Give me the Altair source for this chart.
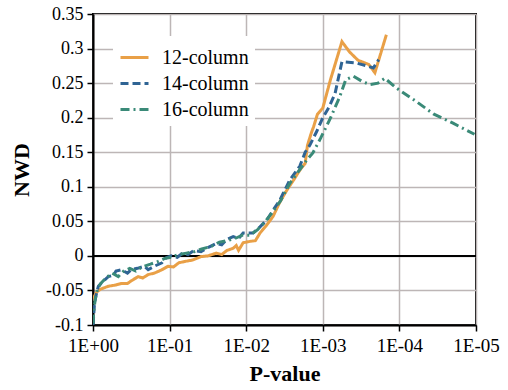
import altair as alt
import pandas as pd

series_names = ["12-column", "14-column", "16-column"]
series_colors = ["#e9a047", "#2f6494", "#3a8a78"]
series_dash = [[1, 0], [8, 4], [9, 4, 2, 4]]

# x = -log10(P-value), y = NWD
x12 = [0.00, 0.02, 0.05, 0.10, 0.20, 0.30, 0.37, 0.45, 0.50, 0.59, 0.65, 0.72, 0.80,
       0.90, 0.98, 1.05, 1.12, 1.20, 1.30, 1.41, 1.50, 1.61, 1.68, 1.75, 1.83, 1.87,
       1.90, 1.96, 2.05, 2.12, 2.18, 2.27, 2.35, 2.44, 2.53, 2.62, 2.70, 2.77, 2.80,
       2.85, 2.88, 2.93, 3.00, 3.10, 3.25, 3.35, 3.46, 3.60, 3.68, 3.83]
y12 = [-0.065, -0.058, -0.052, -0.048, -0.044, -0.042, -0.040, -0.040, -0.036, -0.030,
       -0.032, -0.027, -0.025, -0.020, -0.015, -0.016, -0.010, -0.008, -0.006, -0.001,
       0.000, 0.004, 0.002, 0.008, 0.011, 0.015, 0.008, 0.019, 0.021, 0.022, 0.033,
       0.045, 0.057, 0.078, 0.095, 0.110, 0.124, 0.134, 0.160, 0.178, 0.187, 0.205,
       0.214, 0.255, 0.310, 0.295, 0.283, 0.277, 0.265, 0.320]

x14 = [0.00, 0.01, 0.02, 0.05, 0.07, 0.12, 0.20, 0.27, 0.30, 0.37, 0.45, 0.50, 0.58,
       0.67, 0.72, 0.80, 0.90, 0.95, 1.02, 1.10, 1.17, 1.24, 1.32, 1.41, 1.50, 1.61,
       1.68, 1.75, 1.83, 1.90, 1.96, 2.09, 2.18, 2.27, 2.35, 2.44, 2.57, 2.70, 2.77,
       2.83, 2.92, 3.00, 3.08, 3.16, 3.25, 3.44, 3.60, 3.66, 3.73]
y14 = [-0.100, -0.085, -0.068, -0.052, -0.044, -0.038, -0.030, -0.028, -0.022, -0.020,
       -0.025, -0.020, -0.018, -0.015, -0.020, -0.015, -0.010, -0.003, 0.000, -0.002,
       0.004, 0.002, 0.008, 0.006, 0.012, 0.018, 0.016, 0.024, 0.028, 0.025, 0.033,
       0.033, 0.042, 0.052, 0.066, 0.081, 0.110, 0.130, 0.150, 0.160, 0.180, 0.200,
       0.215, 0.235, 0.281, 0.279, 0.274, 0.272, 0.284]

x16 = [0.00, 0.01, 0.03, 0.06, 0.10, 0.17, 0.25, 0.33, 0.40, 0.48, 0.56, 0.64, 0.75,
       0.85, 0.93, 1.02, 1.12, 1.22, 1.32, 1.42, 1.55, 1.65, 1.75, 1.85, 1.95, 2.05,
       2.15, 2.25, 2.35, 2.45, 2.57, 2.70, 2.80, 2.87, 2.97, 3.09, 3.22, 3.30, 3.40,
       3.52, 3.62, 3.72, 3.81, 3.96, 4.20, 4.45, 4.70, 4.98]
y16 = [-0.098, -0.080, -0.062, -0.048, -0.040, -0.032, -0.025, -0.030, -0.022, -0.018,
       -0.022, -0.016, -0.012, -0.008, -0.004, -0.002, 0.002, 0.004, 0.006, 0.010,
       0.014, 0.020, 0.022, 0.025, 0.030, 0.030, 0.038, 0.050, 0.064, 0.080, 0.105,
       0.125, 0.140, 0.149, 0.170, 0.197, 0.230, 0.255, 0.260, 0.252, 0.248, 0.250,
       0.257, 0.243, 0.225, 0.205, 0.192, 0.176]

x_tick_values = [0, 1, 2, 3, 4, 5]
y_tick_values = [-0.1, -0.05, 0, 0.05, 0.1, 0.15, 0.2, 0.25, 0.3, 0.35]

rows = []
for name, xs, ys in zip(series_names, [x12, x14, x16], [y12, y14, y16]):
    for i, (xv, yv) in enumerate(zip(xs, ys)):
        rows.append({"series": name, "nlogp": xv, "nwd": yv, "idx": i})
df = pd.DataFrame(rows)

FONT = "Liberation Serif, Times New Roman, DejaVu Serif, serif"

legend = alt.Legend(
    title=None, orient="none", legendX=20, legendY=22, fillColor="white",
    padding=6, labelFont=FONT, labelFontSize=20, labelColor="black",
    symbolType="stroke", symbolSize=784, symbolStrokeWidth=3, labelOffset=12,
    rowPadding=0, labelLimit=300,
)

x_axis = alt.Axis(
    values=x_tick_values, title="P-value",
    labelExpr="datum.value == 0 ? '1E+00' : '1E-0' + datum.value",
    labelFont=FONT, labelFontSize=19, labelColor="black",
    labelFlush=False, labelOverlap=False, labelBound=False,
    labelPadding=5, titlePadding=8,
    titleFont=FONT, titleFontSize=22, titleFontWeight="bold", titleColor="black",
)
y_axis = alt.Axis(
    values=y_tick_values, title="NWD",
    labelExpr="replace(format(datum.value, '.2~f'), '\u2212', '-')",
    labelFont=FONT, labelFontSize=18, labelColor="black",
    labelFlush=False, labelOverlap=False, labelBound=False,
    labelPadding=4, titlePadding=12,
    titleFont=FONT, titleFontSize=22, titleFontWeight="bold", titleColor="black",
)
x_scale = alt.Scale(domain=[0, 5], nice=False, zero=False)
y_scale = alt.Scale(domain=[-0.1, 0.35], nice=False, zero=False)

lines = alt.Chart(df).mark_line(strokeWidth=3, clip=True).encode(
    x=alt.X("nlogp:Q", scale=x_scale, axis=x_axis),
    y=alt.Y("nwd:Q", scale=y_scale, axis=y_axis),
    color=alt.Color("series:N", scale=alt.Scale(domain=series_names, range=series_colors), legend=legend),
    strokeDash=alt.StrokeDash("series:N", scale=alt.Scale(domain=series_names, range=series_dash), legend=legend),
    order="idx:Q",
)

zero_line = alt.Chart(pd.DataFrame({"nwd": [0]})).mark_rule(color="black", strokeWidth=2).encode(
    y=alt.Y("nwd:Q", scale=y_scale, axis=y_axis)
)

chart = alt.layer(zero_line, lines).properties(
    width=383, height=311,
    autosize="none",
    padding={"left": 93, "top": 14, "right": 32, "bottom": 65},
    background="white",
).configure_view(
    stroke="black", strokeWidth=2,
).configure_axis(
    domainColor="black", domainWidth=2, tickColor="black", tickSize=6, tickWidth=1.5,
    gridColor="#bdb6b6", gridWidth=1.5, grid=True,
)

chart.save("out.html", embed_options={"renderer": "svg", "actions": False})
